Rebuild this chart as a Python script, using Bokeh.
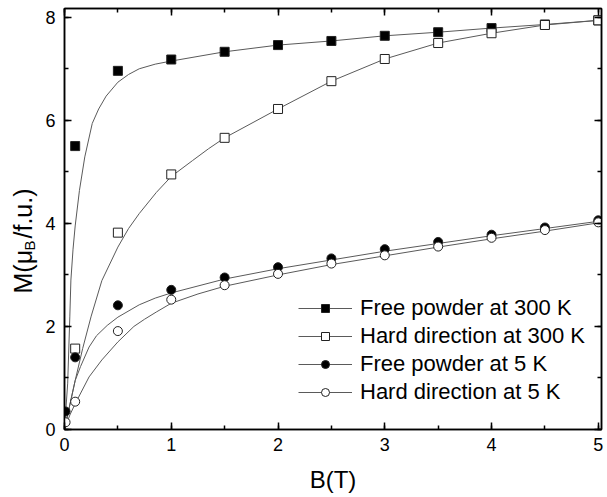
from bokeh.plotting import figure
from bokeh.models import Range1d, LinearAxis, Legend, LegendItem, FixedTicker, Label
from bokeh.layouts import row
from bokeh.embed import file_html
from bokeh.resources import INLINE
import math

# --- measured data (B in T, M in muB/f.u.) ---
b_300 = [0.1, 0.5, 1.0, 1.5, 2.0, 2.5, 3.0, 3.5, 4.0, 4.5, 5.0]
m_free_300 = [5.50, 6.96, 7.18, 7.33, 7.46, 7.54, 7.64, 7.71, 7.79, 7.86, 7.94]
m_hard_300 = [1.57, 3.82, 4.95, 5.66, 6.22, 6.76, 7.19, 7.50, 7.69, 7.85, 7.94]

b_5 = [0.01, 0.1, 0.5, 1.0, 1.5, 2.0, 2.5, 3.0, 3.5, 4.0, 4.5, 5.0]
m_free_5 = [0.35, 1.40, 2.41, 2.71, 2.95, 3.15, 3.32, 3.50, 3.64, 3.78, 3.92, 4.06]
b_5h = [0.01, 0.1, 0.5, 1.0, 1.5, 2.0, 2.5, 3.0, 3.5, 4.0, 4.5, 5.0]
m_hard_5 = [0.14, 0.54, 1.91, 2.52, 2.80, 3.02, 3.22, 3.38, 3.55, 3.72, 3.87, 4.02]

# --- fitted curves ---
fit_b_free_300 = [0.0, 0.03, 0.05, 0.06, 0.08, 0.10, 0.14, 0.19, 0.26, 0.32, 0.39, 0.5, 0.6,
                  0.7, 0.85, 1.0, 1.5, 2.0, 2.5, 3.0, 3.5, 4.0, 4.5, 5.0]
fit_m_free_300 = [0.0, 0.9, 2.2, 2.9, 3.5, 3.95, 4.64, 5.29, 5.94, 6.22, 6.47, 6.74, 6.89,
                  7.00, 7.09, 7.15, 7.33, 7.46, 7.54, 7.64, 7.71, 7.79, 7.86, 7.94]
fit_b_hard_300 = [0.0, 0.05, 0.10, 0.17, 0.25, 0.35, 0.5, 0.6, 0.7, 0.86, 1.0, 1.2, 1.35,
                  1.5, 2.0, 2.5, 3.0, 3.5, 4.0, 4.5, 5.0]
fit_m_hard_300 = [0.0, 0.48, 0.95, 1.57, 2.20, 2.89, 3.54, 3.90, 4.19, 4.60, 4.91, 5.22, 5.45,
                  5.66, 6.22, 6.76, 7.19, 7.50, 7.69, 7.85, 7.94]
fit_b_free_5 = [0.0, 0.045, 0.10, 0.15, 0.23, 0.3, 0.4, 0.5, 0.7, 0.85, 1.0,
                1.5, 2.0, 2.5, 3.0, 3.5, 4.0, 4.5, 5.0]
fit_m_free_5 = [0.0, 0.43, 0.95, 1.22, 1.60, 1.82, 2.02, 2.18, 2.42, 2.55, 2.65,
                2.92, 3.12, 3.29, 3.46, 3.61, 3.76, 3.90, 4.04]
fit_b_hard_5 = [0.0, 0.05, 0.10, 0.23, 0.35, 0.5, 0.65, 0.75, 0.86, 1.0, 1.25,
                1.5, 2.0, 2.5, 3.0, 3.5, 4.0, 4.5, 5.0]
fit_m_hard_5 = [0.0, 0.28, 0.50, 1.02, 1.35, 1.70, 2.00, 2.14, 2.28, 2.45, 2.63,
                2.78, 3.00, 3.20, 3.37, 3.54, 3.70, 3.85, 4.01]

labels = ["Free powder at 300 K", "Hard direction at 300 K",
          "Free powder at 5 K", "Hard direction at 5 K"]
x_ticks = [0, 1, 2, 3, 4, 5]
y_ticks = [0, 2, 4, 6, 8]
y_title_parts = ["M(μ", "B", "/f.u.)"]

FONT = "Liberation Sans"
LINE_COL = "#5a5a5a"
W, H = 607, 497
LW = 40  # width of the strip carrying the y-axis title

# ---------- strip with the rotated y-axis title ----------
lf = figure(width=LW, height=H, output_backend="svg", toolbar_location=None,
            x_range=Range1d(0, 1), y_range=Range1d(0, 1),
            x_axis_type=None, y_axis_type=None, min_border=0)
lf.grid.visible = False
lf.outline_line_color = None
lf.background_fill_color = "white"
lf.border_fill_color = "white"
# canvas-pixel positions: x from left, y from top
title_pos = [(22, 293, "25px"), (29, 250, "15px"), (22, 238, "25px")]
for txt, (px, py, fs) in zip(y_title_parts, title_pos):
    lf.add_layout(Label(x=px, y=py, x_units="canvas", y_units="canvas", text=txt,
                        angle=math.pi / 2, text_font=FONT, text_font_size=fs,
                        text_color="black", text_align="left", text_baseline="middle"))

# ---------- main plot ----------
p = figure(width=W - LW, height=H, output_backend="svg", toolbar_location=None,
           x_range=Range1d(0, 5.03), y_range=Range1d(0, 8.17),
           min_border_left=64 - LW, min_border_right=6, min_border_top=8, min_border_bottom=68)
p.background_fill_color = "white"
p.border_fill_color = "white"
p.grid.visible = False
p.outline_line_color = "black"
p.outline_line_width = 1.5

def style_axis(ax, show_labels=True, ticks=None):
    ax.axis_line_width = 1.5
    ax.axis_line_color = "black"
    ax.major_tick_in = 7
    ax.major_tick_out = 0
    ax.minor_tick_in = 4
    ax.minor_tick_out = 0
    ax.major_tick_line_width = 1.5
    ax.minor_tick_line_width = 1.5
    ax.major_label_text_font = FONT
    ax.major_label_text_color = "black"
    if show_labels:
        ax.major_label_text_font_size = "18px"
    else:
        ax.major_label_overrides = {t: "" for t in ticks}
        ax.major_label_standoff = 0

x_minor = [0.5 * i for i in range(11)]
y_minor = list(range(9))

p.xaxis.ticker = FixedTicker(ticks=x_ticks, minor_ticks=x_minor)
p.yaxis.ticker = FixedTicker(ticks=y_ticks, minor_ticks=y_minor)
style_axis(p.xaxis[0])
style_axis(p.yaxis[0])
p.xaxis[0].major_label_standoff = 8
p.yaxis[0].major_label_standoff = 9
p.xaxis[0].axis_label = "B(T)"
p.xaxis[0].axis_label_text_font = FONT
p.xaxis[0].axis_label_text_font_size = "24px"
p.xaxis[0].axis_label_text_font_style = "normal"
p.xaxis[0].axis_label_text_color = "black"
p.xaxis[0].axis_label_standoff = 12

top = LinearAxis(ticker=FixedTicker(ticks=x_ticks, minor_ticks=x_minor))
style_axis(top, False, x_ticks)
p.add_layout(top, "above")
right = LinearAxis(ticker=FixedTicker(ticks=y_ticks, minor_ticks=y_minor))
style_axis(right, False, y_ticks)
p.add_layout(right, "right")

items = []
series = [
    (fit_b_free_300, fit_m_free_300, b_300, m_free_300, "square", "black"),
    (fit_b_hard_300, fit_m_hard_300, b_300, m_hard_300, "square", "white"),
    (fit_b_free_5, fit_m_free_5, b_5, m_free_5, "circle", "black"),
    (fit_b_hard_5, fit_m_hard_5, b_5h, m_hard_5, "circle", "white"),
]
for (fb, fm, xb, ym, mk, fill), lab in zip(series, labels):
    lr = p.line(fb, fm, line_color=LINE_COL, line_width=1)
    sr = p.scatter(xb, ym, marker=mk, size=9, fill_color=fill,
                   line_color="#222222", line_width=1)
    items.append(LegendItem(label=lab, renderers=[lr, sr]))

legend = Legend(items=items, location=(234, 24))
legend.padding = 0
legend.margin = 0
legend.border_line_color = None
legend.background_fill_alpha = 0
legend.glyph_width = 54
legend.glyph_height = 20
legend.label_standoff = 8
legend.spacing = 2
legend.label_text_font = FONT
legend.label_text_font_size = "22px"
legend.label_text_color = "black"
p.add_layout(legend, "center")

layout = row(lf, p, spacing=0)
open("out.html", "w").write(file_html(layout, INLINE))
